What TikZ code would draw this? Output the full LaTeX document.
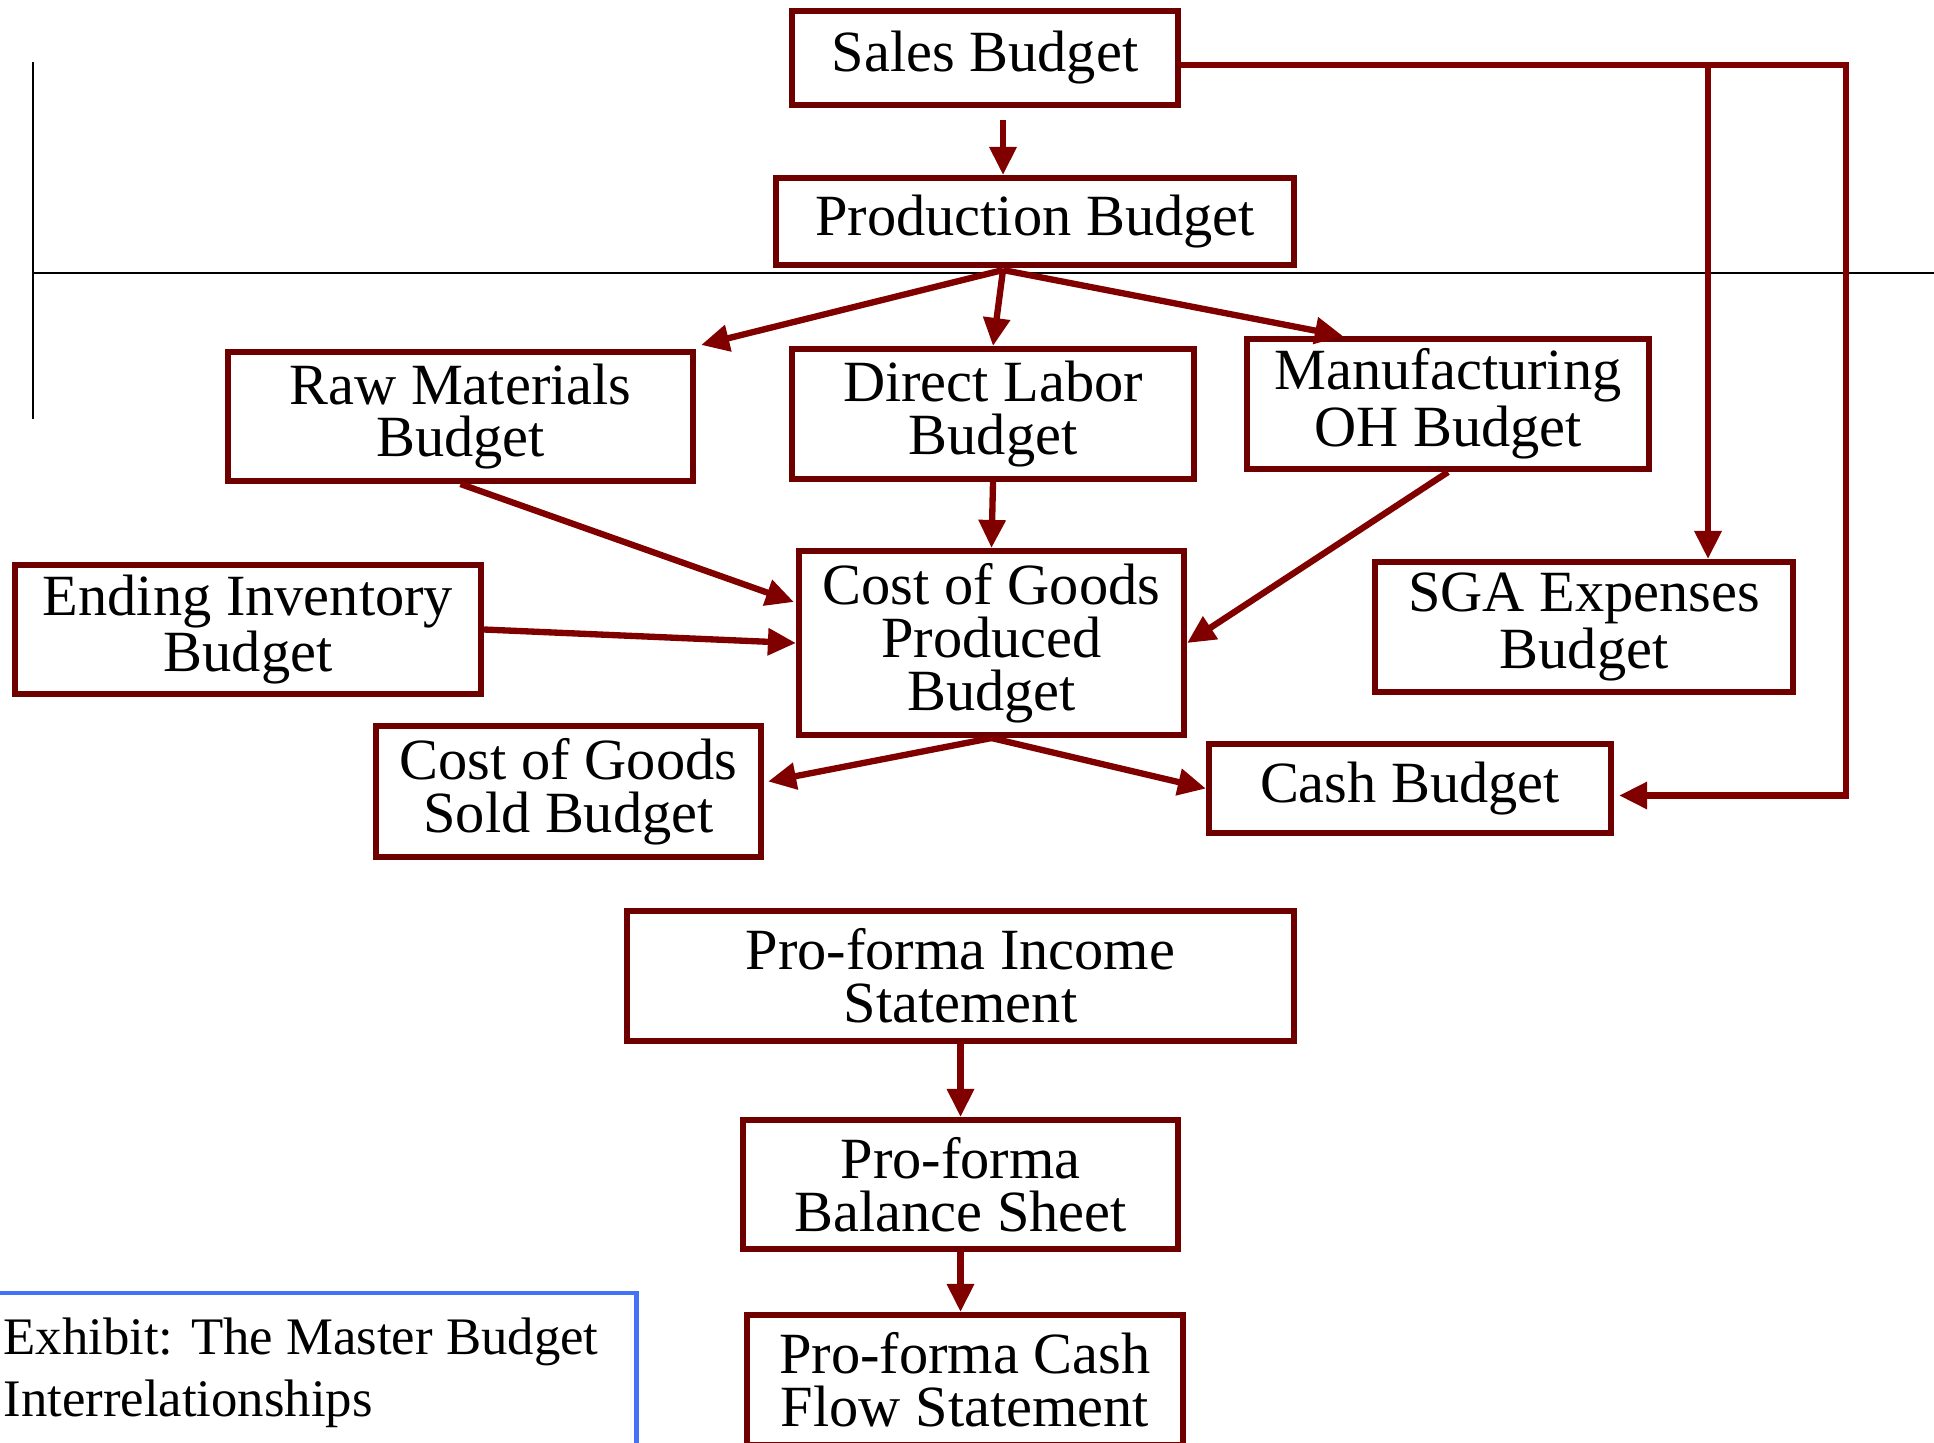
\documentclass[tikz,border=0pt]{standalone}
\usepackage{fontspec}
\setmainfont{Liberation Serif}
\usetikzlibrary{arrows.meta,calc}
\definecolor{boxred}{RGB}{110,0,0}
\definecolor{flowred}{RGB}{128,0,0}
\definecolor{exhibitblue}{RGB}{66,114,245}

\begin{document}
\begin{tikzpicture}[x=0.01cm,y=-0.01cm,
    budgetbox/.style={draw=boxred, line width=1.7pt, fill=white, align=center, inner sep=0pt,
      font=\fontsize{16.6}{15}\selectfont},
    flow/.style={draw=flowred, line width=1.8pt, -{Triangle[length=0.28cm,width=0.26cm]}}]
    \useasboundingbox (0,0) rectangle (1934,1442);
    \clip (0,0) rectangle (1934,1442);
    % black guide lines
    \draw[line width=0.8pt] (33,62) -- (33,419);
    \draw[line width=0.8pt] (33,273) -- (1934,273);
    % sales and production
    \node[budgetbox, minimum width=3.86cm, minimum height=0.94cm] (sales) at (985,58) {Sales Budget};
    \node[budgetbox, minimum width=5.18cm, minimum height=0.87cm] (prod) at (1035,221.5) {Production Budget};
    % input budgets
    \node[budgetbox, minimum width=4.65cm, minimum height=1.29cm] (raw) at (460.5,416.5) {Raw Materials\\Budget};
    \node[budgetbox, minimum width=4.02cm, minimum height=1.30cm] (direct) at (993,414) {Direct Labor\\Budget};
    \node[budgetbox, minimum width=4.02cm, minimum height=1.30cm] (manuf) at (1448,404) {Manufacturing\\OH Budget};
    \node[budgetbox, minimum width=4.66cm, minimum height=1.29cm] (ending) at (248,629.5) {Ending Inventory\\Budget};
    \node[budgetbox, minimum width=3.85cm, minimum height=1.84cm] (cogp) at (991.5,643) {Cost of Goods\\Produced\\Budget};
    \node[budgetbox, minimum width=4.18cm, minimum height=1.30cm] (sga) at (1584,627) {SGA Expenses\\Budget};
    \node[budgetbox, minimum width=3.85cm, minimum height=1.31cm] (cogs) at (568.5,791.5) {Cost of Goods\\Sold Budget};
    \node[budgetbox, minimum width=4.02cm, minimum height=0.89cm] (cash) at (1410,788.5) {Cash Budget};
    % pro-forma statements
    \node[budgetbox, minimum width=6.67cm, minimum height=1.30cm] (income) at (960.5,976) {Pro-forma Income\\Statement};
    \node[budgetbox, minimum width=4.35cm, minimum height=1.29cm] (balance) at (960.5,1184.5) {Pro-forma\\Balance Sheet};
    \node[budgetbox, minimum width=4.36cm, minimum height=1.30cm] (cashflow) at (965,1380) {Pro-forma Cash\\Flow Statement};
    % caption box
    \node[draw=exhibitblue, line width=1.4pt, minimum width=6.7cm, minimum height=1.6cm,
      align=left, inner sep=0pt, font=\fontsize{15}{17.6}\selectfont] (exhibit) at (301,1373)
      {Exhibit: The Master Budget\\Interrelationships};
    % flows
    \coordinate (prodout) at ($(prod.south)+(-32,2)$);
    \coordinate (railtop) at (1846,65);
    \coordinate (sgatop) at (1708,65);
    \draw[flow] ($(sales.south)+(18,12)$) -- ($(prod.north)+(-32,0)$);
    \draw[flow] ($(sales.east)+(0,7)$) -- (railtop) |- ($(cash.east)+(5,7)$);
    \draw[flow] (sgatop) -- (sgatop |- sga.north);
    \draw[flow] (prodout) -- ($(raw.north east)+(5,-4)$);
    \draw[flow] (prodout) -- (direct.north);
    \draw[flow] (prodout) -- ($(manuf.north west)+(99,0)$);
    \draw[flow] (raw.south) -- ($(cogp.west)+(-2,-41)$);
    \draw[flow] (direct.south) -- (cogp.north);
    \draw[flow] (manuf.south) -- (cogp.east);
    \draw[flow] (ending.east) -- (cogp.west);
    \draw[flow] (cogp.south) -- ($(cogs.east)+(4,-10)$);
    \draw[flow] (cogp.south) -- (cash.west);
    \draw[flow] (income.south) -- (balance.north);
    \draw[flow] (balance.south) -- (balance.south |- cashflow.north);
\end{tikzpicture}
\end{document}
